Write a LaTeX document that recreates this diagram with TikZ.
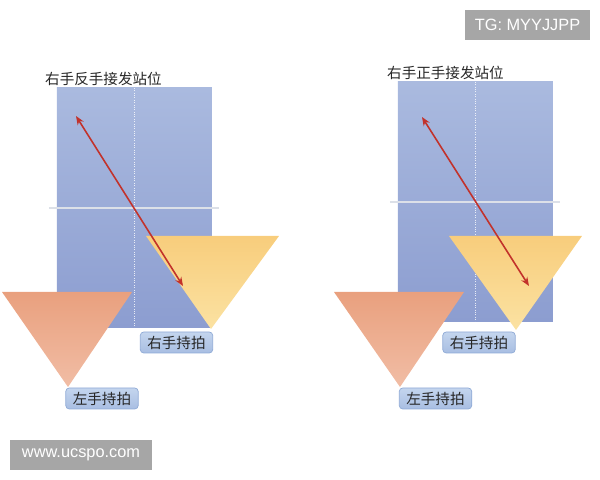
\documentclass[tikz,border=0pt]{standalone}
\usepackage{fontspec}
\setsansfont{Liberation Sans}
\newfontfamily\cjk{Noto Sans CJK SC}
\usepackage{tikz}
\usetikzlibrary{arrows.meta}
\definecolor{tabletop}{HTML}{AABADF}
\definecolor{tablebot}{HTML}{8C9DD0}
\definecolor{yellowtop}{HTML}{F8CD7C}
\definecolor{yellowbot}{HTML}{FBE2A2}
\definecolor{salmontop}{HTML}{E9A07E}
\definecolor{salmonbot}{HTML}{F1BDA5}
\definecolor{labeltop}{HTML}{C4D5EE}
\definecolor{labelbot}{HTML}{A8BEE2}
\definecolor{labelline}{HTML}{8FAAD6}
\definecolor{arrowred}{HTML}{C2322B}
\definecolor{netgrey}{HTML}{DCE0E8}
\definecolor{tagfill}{HTML}{A6A6A6}
\tikzstyle{stand} = [font=\cjk\fontsize{8.3pt}{9pt}\selectfont, text=black!85, inner sep=0pt]
\tikzstyle{hand} = [stand, draw=labelline, line width=0.4pt, top color=labeltop, bottom color=labelbot, rounded corners=2pt, minimum width=1.45cm, minimum height=0.42cm]
\tikzstyle{stroke} = [draw=arrowred, line width=0.9pt, >={Stealth[length=5pt,width=4pt]}, <->]
\tikzstyle{netline} = [draw=netgrey, line width=1.1pt]
\tikzstyle{midline} = [draw=white, line width=0.35pt, densely dotted, opacity=0.8]
\tikzstyle{tagbox} = [fill=tagfill, text=white, font=\sffamily\fontsize{9.3pt}{10pt}\selectfont, minimum height=0.6cm]

\begin{document}
\begin{tikzpicture}[x=0.02cm,y=0.02cm]
\useasboundingbox (0,0) rectangle (600,480);
% left: backhand receive
\shade[top color=tabletop,bottom color=tablebot] (57,152) rectangle (212,392);
\draw[netline] (49,272) -- (219,272);
\draw[midline] (134,392) -- (134,152);
\shade[top color=yellowtop,bottom color=yellowbot] (146,244) -- (279,244) -- (211,151) -- cycle;
\coordinate (aimL) at (76,364);
\coordinate (hitL) at (183,194);
\draw[stroke] (aimL) -- (hitL);
\shade[top color=salmontop,bottom color=salmonbot] (2,188) -- (132,188) -- (68,93) -- cycle;
\node[stand] (titleL) at (103.5,401) {右手反手接发站位};
\node[hand] (rightL) at (176.5,137.5) {右手持拍};
\node[hand] (leftL) at (102,81.5) {左手持拍};
% right: forehand receive
\shade[top color=tabletop,bottom color=tablebot] (398,158) rectangle (553,398);
\draw[netline] (390,278) -- (560,278);
\draw[midline] (475,398) -- (475,158);
\shade[top color=yellowtop,bottom color=yellowbot] (449,244) -- (582,244) -- (516,150) -- cycle;
\coordinate (aimR) at (422,363);
\coordinate (hitR) at (529,194);
\draw[stroke] (aimR) -- (hitR);
\shade[top color=salmontop,bottom color=salmonbot] (334,188) -- (464,188) -- (400,93) -- cycle;
\node[stand] (titleR) at (445.5,407) {右手正手接发站位};
\node[hand] (rightR) at (479,137.5) {右手持拍};
\node[hand] (leftR) at (435.5,81.5) {左手持拍};
% watermarks
\node[tagbox, minimum width=2.84cm] (site) at (81,25) {www.ucspo.com};
\node[tagbox, minimum width=2.5cm] (tg) at (527.5,455) {TG: MYYJJPP};
\end{tikzpicture}
\end{document}
